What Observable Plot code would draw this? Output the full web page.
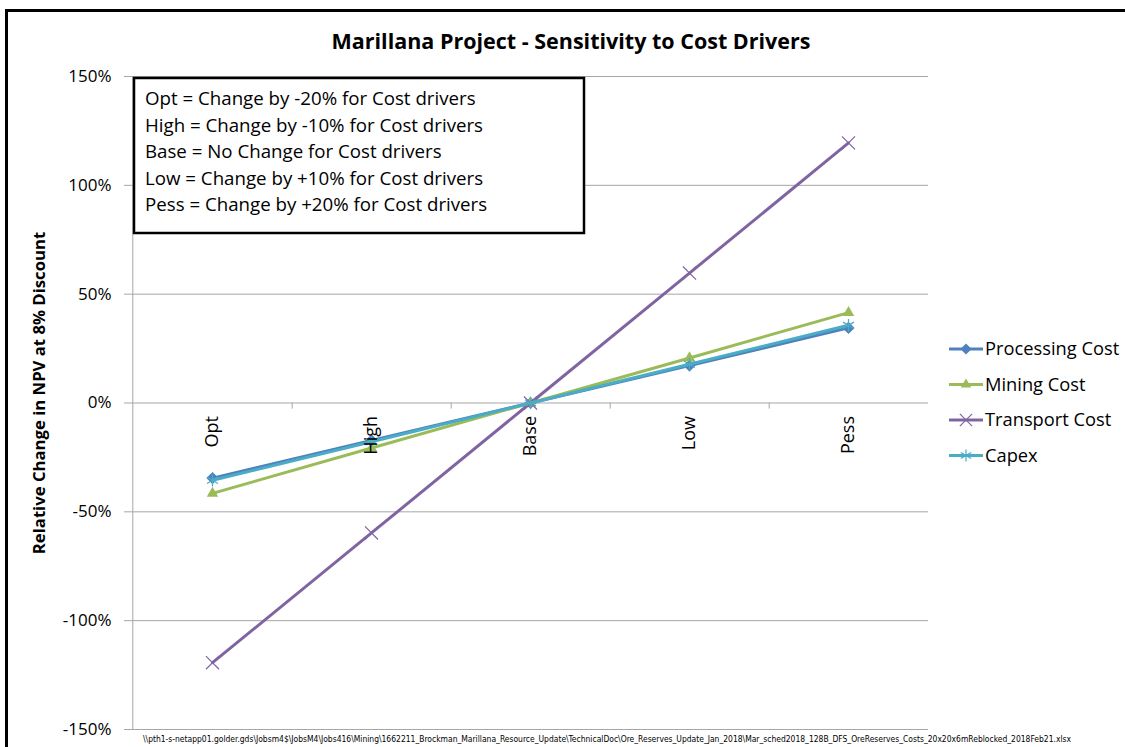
<!DOCTYPE html>
<html>
<head>
<meta charset="utf-8">
<script src="https://cdn.jsdelivr.net/npm/d3@7"></script>
<script src="https://cdn.jsdelivr.net/npm/@observablehq/plot@0.6"></script>
<style>
  html, body { margin: 0; padding: 0; background: #fff; }
  #wrap { position: relative; width: 1125px; height: 747px; overflow: hidden; font-family: "Open Sans", sans-serif; }
  #frame { position: absolute; left: 5px; top: 9px; width: 1200px; height: 800px; border-left: 3px solid #000; border-top: 3px solid #000; box-sizing: border-box; pointer-events: none; }
</style>
</head>
<body>
<div id="wrap"><div id="frame"></div></div>
<script>
const categories = ["Opt", "High", "Base", "Low", "Pess"];
const seriesNames = ["Processing Cost", "Mining Cost", "Transport Cost", "Capex"];
const processing = [-0.345, -0.172, 0, 0.172, 0.345];
const mining = [-0.415, -0.207, 0, 0.207, 0.415];
const transport = [-1.193, -0.597, 0, 0.597, 1.195];
const capex = [-0.355, -0.178, 0, 0.178, 0.357];
const yTicks = [-1.5, -1, -0.5, 0, 0.5, 1, 1.5];
const titleText = "Marillana Project - Sensitivity to Cost Drivers";
const yLabel = "Relative Change in NPV at 8% Discount";
const noteLines = [
  "Opt = Change by -20% for Cost drivers",
  "High = Change by -10% for Cost drivers",
  "Base = No Change for Cost drivers",
  "Low = Change by +10% for Cost drivers",
  "Pess = Change by +20% for Cost drivers"
];
const footer = "\\\\pth1-s-netapp01.golder.gds\\Jobsm4$\\JobsM4\\Jobs416\\Mining\\1662211_Brockman_Marillana_Resource_Update\\TechnicalDoc\\Ore_Reserves_Update_Jan_2018\\Mar_sched2018_128B_DFS_OreReserves_Costs_20x20x6mReblocked_2018Feb21.xlsx";

const colors = ["#4F81BD", "#9BBB59", "#8064A2", "#4BACC6"];
const symbols = ["diamond2", "triangle2", "times", "asterisk"];
const valuesList = [processing, mining, transport, capex];

const rows = [];
seriesNames.forEach((s, i) => categories.forEach((c, j) => rows.push({series: s, cat: c, value: valuesList[i][j]})));

const W = 1125, H = 747;
const mL = 131, mR = 197, mT = 76, mB = 18;
const step = (W - mL - mR) / categories.length;
const ff = "'Open Sans', sans-serif";

const marks = [
  Plot.gridY(yTicks, {stroke: "#a6a6a6", strokeOpacity: 1, strokeWidth: 1}),
  Plot.ruleX([categories[0]], {x: d => d, dx: -step / 2, stroke: "#a6a6a6", strokeWidth: 1}),
  Plot.ruleX(categories.slice(0, 4), {x: d => d, y1: 0, y2: -0.028, dx: step / 2, stroke: "#a6a6a6", strokeWidth: 1}),
  Plot.axisY({ticks: yTicks, tickFormat: d => Math.round(d * 100) + "%", tickSize: 7, tickPadding: 13, fontSize: 17, stroke: "#a6a6a6", color: "#000", label: null})
];
seriesNames.forEach((s, i) => {
  const data = rows.filter(r => r.series === s);
  marks.push(Plot.line(data, {x: "cat", y: "value", stroke: colors[i], strokeWidth: 3}));
  const isStroke = symbols[i] === "times" || symbols[i] === "asterisk";
  marks.push(Plot.dot(data, {x: "cat", y: "value", symbol: symbols[i], r: isStroke ? 6 : 5.5,
    fill: isStroke ? "none" : colors[i], stroke: isStroke ? colors[i] : "none", strokeWidth: 1.2}));
});
marks.push(Plot.text(categories, {x: d => d, y: () => 0, text: d => d, rotate: -90, textAnchor: "end", dy: 13, fontSize: 18, fill: "#000"}));

const chart = Plot.plot({
  width: W, height: H,
  marginLeft: mL, marginRight: mR, marginTop: mT, marginBottom: mB,
  style: {fontFamily: ff, background: "transparent", overflow: "visible"},
  x: {type: "point", domain: categories, padding: 0.5, axis: null},
  y: {type: "linear", domain: [-1.5, 1.5], axis: null},
  marks
});
chart.style.position = "absolute";
chart.style.left = "0px";
chart.style.top = "0px";
document.getElementById("wrap").appendChild(chart);

// overlay annotations
const svg = d3.select(chart);
svg.append("text").attr("x", 571).attr("y", 49).attr("text-anchor", "middle")
  .attr("font-family", ff).attr("font-weight", "bold").attr("font-size", 21.5).attr("fill", "#000").text(titleText);
svg.append("text").attr("transform", "translate(45,393) rotate(-90)").attr("text-anchor", "middle")
  .attr("font-family", ff).attr("font-weight", "bold").attr("font-size", 16.7).attr("fill", "#000").text(yLabel);

const box = svg.append("g");
box.append("rect").attr("x", 134).attr("y", 78).attr("width", 450).attr("height", 155)
  .attr("fill", "#fff").attr("stroke", "#000").attr("stroke-width", 2.5);
noteLines.forEach((t, i) => box.append("text").attr("x", 145).attr("y", 105 + i * 26.6).attr("text-anchor", "start")
  .attr("font-family", ff).attr("font-size", 18.7).attr("fill", "#000").text(t));

// legend
const leg = svg.append("g");
const symMap = {diamond2: d3.symbolDiamond2, triangle2: d3.symbolTriangle2, times: d3.symbolTimes, asterisk: d3.symbolAsterisk};
seriesNames.forEach((s, i) => {
  const y = 349 + i * 35.5;
  leg.append("line").attr("x1", 949).attr("x2", 983).attr("y1", y).attr("y2", y)
    .attr("stroke", colors[i]).attr("stroke-width", 3);
  const isStroke = symbols[i] === "times" || symbols[i] === "asterisk";
  leg.append("path").attr("transform", `translate(966,${y})`)
    .attr("d", d3.symbol(symMap[symbols[i]], isStroke ? 100 : 80)())
    .attr("fill", isStroke ? "none" : colors[i]).attr("stroke", isStroke ? colors[i] : "none").attr("stroke-width", 1.2);
  leg.append("text").attr("x", 985).attr("y", y).attr("dy", "0.35em").attr("text-anchor", "start")
    .attr("font-family", ff).attr("font-size", 18.3).attr("fill", "#000").text(s);
});

svg.append("text").attr("x", 143).attr("y", 742).attr("text-anchor", "start").attr("textLength", 928).attr("lengthAdjust", "spacingAndGlyphs")
  .attr("font-family", "'Liberation Sans Narrow', 'DejaVu Sans Condensed', sans-serif").attr("font-size", 8.5).attr("fill", "#000").text(footer);
</script>
</body>
</html>
